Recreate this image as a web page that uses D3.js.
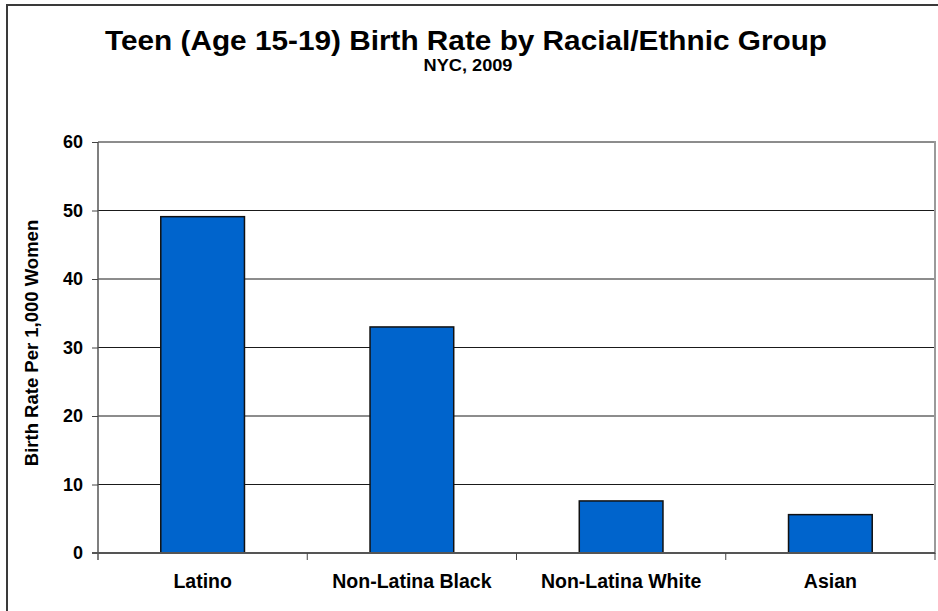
<!DOCTYPE html>
<html>
<head>
<meta charset="utf-8">
<script src="https://cdn.jsdelivr.net/npm/d3@7"></script>
<style>
  html, body { margin: 0; padding: 0; background: #fff; }
  svg { display: block; font-family: "Liberation Sans", Arial, Helvetica, sans-serif; }
</style>
</head>
<body>
<svg id="chart" width="938" height="611"></svg>
<script>
// Teen birth rate per 1,000 women, NYC 2009
const categories = ["Latino", "Non-Latina Black", "Non-Latina White", "Asian"];
const birthRates = [49.1, 33.0, 7.6, 5.6];
const yTicks = [0, 10, 20, 30, 40, 50, 60];
const titleText = "Teen (Age 15-19) Birth Rate by Racial/Ethnic Group";
const subtitleText = "NYC, 2009";
const yLabelText = "Birth Rate Per 1,000 Women";

const svg = d3.select("#chart");
const plot = { left: 98, right: 935, top: 142, bottom: 553 };

// outer frame
svg.append("rect")
  .attr("x", 7).attr("y", 5)
  .attr("width", 1000).attr("height", 700)
  .attr("fill", "none").attr("stroke", "#3a3a3a").attr("stroke-width", 2);

const x = d3.scaleBand()
  .domain(categories)
  .range([plot.left, plot.right])
  .paddingInner(0.6)
  .paddingOuter(0.3);

const y = d3.scaleLinear()
  .domain([0, 60])
  .range([plot.bottom, plot.top]);

// horizontal gridlines
svg.append("g")
  .selectAll("line")
  .data(yTicks.filter(d => d > 0))
  .join("line")
  .attr("x1", plot.left).attr("x2", plot.right)
  .attr("y1", d => y(d)).attr("y2", d => y(d))
  .attr("stroke", "#1a1a1a").attr("stroke-width", 1);

// right edge of plot area
svg.append("line")
  .attr("x1", plot.right).attr("x2", plot.right)
  .attr("y1", y(60) - 1).attr("y2", y(0) + 1)
  .attr("stroke", "#9a9a9a").attr("stroke-width", 2);

// bars
svg.append("g")
  .selectAll("rect")
  .data(categories.map((c, i) => ({ c, v: birthRates[i] })))
  .join("rect")
  .attr("x", d => x(d.c))
  .attr("y", d => y(d.v))
  .attr("width", x.bandwidth())
  .attr("height", d => y(0) - y(d.v))
  .attr("fill", "#0064CC")
  .attr("stroke", "#111").attr("stroke-width", 1.5);

// y axis
const yAxis = d3.axisLeft(y).tickValues(yTicks).tickSize(6).tickPadding(9);
const gy = svg.append("g")
  .attr("transform", `translate(${plot.left},0)`)
  .call(yAxis);
gy.select(".domain").attr("stroke", "#555").attr("stroke-width", 1.5)
  .attr("d", `M0,${y(60)}V${y(0) + 7}`);
gy.selectAll(".tick line").attr("stroke", "#444");
gy.selectAll(".tick text")
  .attr("font-size", 18).attr("font-weight", "bold").attr("fill", "#000")
  .attr("font-family", "'Liberation Sans', Arial, sans-serif");

// x axis baseline and category boundary ticks
const step = x.step();
const boundaries = d3.range(categories.length + 1).map(i => plot.left + i * step);
svg.append("line")
  .attr("x1", plot.left - 6).attr("x2", plot.right)
  .attr("y1", y(0)).attr("y2", y(0))
  .attr("stroke", "#555").attr("stroke-width", 2);
svg.append("g")
  .selectAll("line")
  .data(boundaries.slice(1))
  .join("line")
  .attr("x1", d => d).attr("x2", d => d)
  .attr("y1", y(0)).attr("y2", y(0) + 7)
  .attr("stroke", "#444").attr("stroke-width", 1);

// category labels
svg.append("g")
  .selectAll("text")
  .data(categories)
  .join("text")
  .attr("x", d => x(d) + x.bandwidth() / 2)
  .attr("y", 588)
  .attr("text-anchor", "middle")
  .attr("font-size", 19.5).attr("font-weight", "bold")
  .text(d => d);

// y axis title
svg.append("text")
  .attr("transform", `translate(38,343) rotate(-90)`)
  .attr("text-anchor", "middle")
  .attr("font-size", 18.5).attr("font-weight", "bold")
  .text(yLabelText);

// titles
svg.append("text")
  .attr("x", 466).attr("y", 49.5)
  .attr("text-anchor", "middle")
  .attr("font-size", 28.5).attr("font-weight", "bold")
  .attr("textLength", 722).attr("lengthAdjust", "spacingAndGlyphs")
  .text(titleText);

svg.append("text")
  .attr("x", 468).attr("y", 71)
  .attr("text-anchor", "middle")
  .attr("font-size", 16.5).attr("font-weight", "bold")
  .attr("textLength", 89).attr("lengthAdjust", "spacingAndGlyphs")
  .text(subtitleText);
</script>
</body>
</html>
